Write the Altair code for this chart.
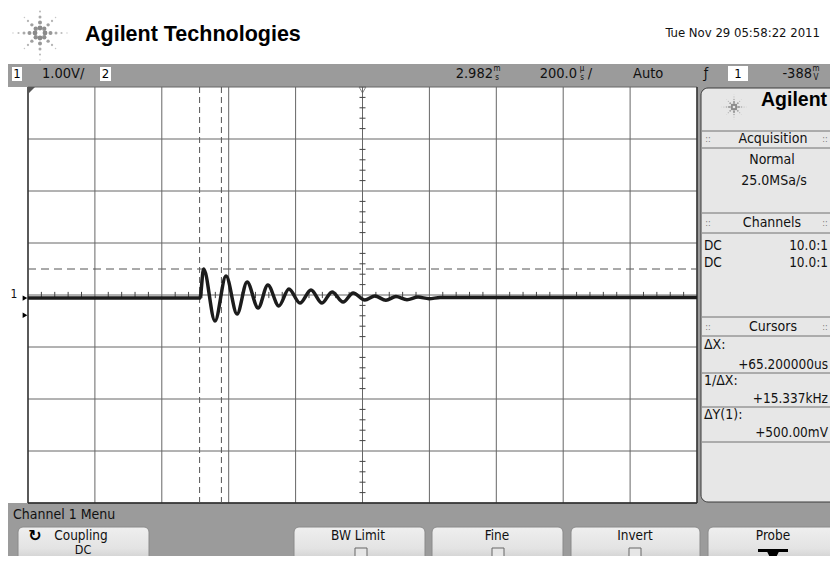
import math
import altair as alt
import pandas as pd

OFF = 8  # page margin: chart pixel = reference pixel - OFF

NARROW = "DejaVu Sans Condensed, Liberation Sans Narrow, sans-serif"
SANS = "Liberation Sans, Arial, Helvetica, sans-serif"
GRAY = "#9b9b9b"

# ---------------- scope data ----------------
TIME_DOMAIN = [-1000, 1000]          # microseconds, 200 us/div
VOLT_DOMAIN = [-4, 4]                # volts, 1.00 V/div
grid_t = [-1000, -800, -600, -400, -200, 0, 200, 400, 600, 800, 1000]
grid_v = [-4, -3, -2, -1, 0, 1, 2, 3, 4]

trace_t = [-1000, -486, -475, -441, -408, -375, -345, -312, -283, -250, -220, -187,
           -154, -121, -91, -58, -28, 7, 37, 70, 100, 133, 166, 199, 232, 1000]
trace_v = [-0.06, -0.06, 0.50, -0.50, 0.365, -0.365, 0.25, -0.25, 0.19, -0.21, 0.115, -0.155,
           0.095, -0.155, 0.06, -0.135, 0.04, -0.095, -0.02, -0.10, -0.03, -0.09, -0.04, -0.07,
           -0.05, -0.05]

cursor_x = [-487.0, -421.8]          # delta X = 65.2 us
cursor_y = [0.5]                      # delta Y(1) = 500 mV (other cursor at 0 V)
trigger_level = -0.388
ground_level = -0.06

# plot area in reference pixels
PX = [28, 697]
PY = [503, 87]

xs = alt.Scale(domain=TIME_DOMAIN, range=[PX[0] - OFF, PX[1] - OFF], nice=False, zero=False)
ys = alt.Scale(domain=VOLT_DOMAIN, range=[PY[0] - OFF, PY[1] - OFF], nice=False, zero=False)


def X(f):
    return alt.X(f, scale=xs, axis=None)


def Y(f):
    return alt.Y(f, scale=ys, axis=None)


def PXe(f):
    return alt.X(f, scale=None, axis=None)


def PYe(f):
    return alt.Y(f, scale=None, axis=None)


layers = []

# ---------------- background blocks ----------------
rects = pd.DataFrame([
    dict(x=0, x2=838, y=64, y2=87, fill=GRAY),
    dict(x=28, x2=697, y=87, y2=503, fill="white"),
    dict(x=697, x2=838, y=87, y2=505, fill=GRAY),
    dict(x=0, x2=838, y=503, y2=564, fill=GRAY),
    dict(x=12, x2=22, y=67, y2=81, fill="white"),
    dict(x=100, x2=111, y=67, y2=81, fill="white"),
    dict(x=728, x2=748, y=66, y2=81, fill="white"),
])
for c in ["x", "x2", "y", "y2"]:
    rects[c] = rects[c] - OFF
layers.append(alt.Chart(rects).mark_rect().encode(
    x=PXe("x:Q"), x2="x2:Q", y=PYe("y:Q"), y2="y2:Q",
    color=alt.Color("fill:N", scale=None, legend=None)))

# right side panel
panel = pd.DataFrame([dict(x=701 - OFF, x2=845 - OFF, y=88 - OFF, y2=502 - OFF)])
layers.append(alt.Chart(panel).mark_rect(
    color="#e7e7e7", stroke="#3a3a3a", strokeWidth=1,
    cornerRadiusTopLeft=7, cornerRadiusBottomLeft=7).encode(
    x=PXe("x:Q"), x2="x2:Q", y=PYe("y:Q"), y2="y2:Q"))

# soft keys
buttons = pd.DataFrame(dict(
    x=[18, 294, 432, 571, 708], x2=[149, 425, 563, 700, 842],
    y=[527] * 5, y2=[575] * 5))
for c in ["x", "x2", "y", "y2"]:
    buttons[c] = buttons[c] - OFF
grad = alt.Gradient(gradient="linear", x1=0, x2=0, y1=0, y2=1, stops=[
    alt.GradientStop(color="#efefef", offset=0),
    alt.GradientStop(color="#e3e3e3", offset=0.45),
    alt.GradientStop(color="#b5b5b5", offset=1)])
layers.append(alt.Chart(buttons).mark_rect(
    color=grad, stroke="#8a8a8a", strokeWidth=1, cornerRadius=5).encode(
    x=PXe("x:Q"), x2="x2:Q", y=PYe("y:Q"), y2="y2:Q"))

checks = pd.DataFrame(dict(x=[355, 492, 629], x2=[367, 504, 641], y=[548] * 3, y2=[560] * 3))
for c in ["x", "x2", "y", "y2"]:
    checks[c] = checks[c] - OFF
layers.append(alt.Chart(checks).mark_rect(
    fill="#e6e6e6", stroke="#666666", strokeWidth=1).encode(
    x=PXe("x:Q"), x2="x2:Q", y=PYe("y:Q"), y2="y2:Q"))

# probe arrow
arrow_bar = pd.DataFrame([dict(x=758 - OFF, x2=788 - OFF, y=549 - OFF, y2=552 - OFF)])
layers.append(alt.Chart(arrow_bar).mark_rect(color="black").encode(
    x=PXe("x:Q"), x2="x2:Q", y=PYe("y:Q"), y2="y2:Q"))
arrow_tri = pd.DataFrame([dict(x=773 - OFF, y=557 - OFF)])
layers.append(alt.Chart(arrow_tri).mark_point(
    shape="M -1 -1 L 1 -1 L 0 1 Z", filled=True, color="black", size=170, opacity=1).encode(
    x=PXe("x:Q"), y=PYe("y:Q")))

# panel separator lines
sep_y = [131, 148, 213, 233, 317, 336, 373, 407, 442]
seps = pd.DataFrame(dict(y=[v - OFF for v in sep_y]))
seps["x"] = 702 - OFF
seps["x2"] = 845 - OFF
layers.append(alt.Chart(seps).mark_rule(color="#707070", strokeWidth=1).encode(
    x=PXe("x:Q"), x2="x2:Q", y=PYe("y:Q")))

# ---------------- scope grid ----------------
vgrid = pd.DataFrame(dict(t=grid_t))
vgrid["v1"] = VOLT_DOMAIN[0]
vgrid["v2"] = VOLT_DOMAIN[1]
layers.append(alt.Chart(vgrid).mark_rule(color="#666666", strokeWidth=1).encode(
    x=X("t:Q"), y=Y("v1:Q"), y2="v2:Q"))
hgrid = pd.DataFrame(dict(v=grid_v))
hgrid["t1"] = TIME_DOMAIN[0]
hgrid["t2"] = TIME_DOMAIN[1]
layers.append(alt.Chart(hgrid).mark_rule(color="#666666", strokeWidth=1).encode(
    y=Y("v:Q"), x=X("t1:Q"), x2="t2:Q"))

# minor ticks on centre axes
minor_v = [round(-4 + 0.2 * i, 2) for i in range(41) if i % 5 != 0]
mv = pd.DataFrame(dict(v=minor_v))
mv["t1"] = -9
mv["t2"] = 9
layers.append(alt.Chart(mv).mark_rule(color="#444444", strokeWidth=1).encode(
    y=Y("v:Q"), x=X("t1:Q"), x2="t2:Q"))
minor_t = [-1000 + 40 * i for i in range(51) if i % 5 != 0]
mt = pd.DataFrame(dict(t=minor_t))
mt["v1"] = -0.06
mt["v2"] = 0.06
layers.append(alt.Chart(mt).mark_rule(color="#444444", strokeWidth=1).encode(
    x=X("t:Q"), y=Y("v1:Q"), y2="v2:Q"))

# frame of the plot area
frame_v = pd.DataFrame(dict(t=[TIME_DOMAIN[0], TIME_DOMAIN[1]]))
frame_v["v1"] = VOLT_DOMAIN[0]
frame_v["v2"] = VOLT_DOMAIN[1]
layers.append(alt.Chart(frame_v).mark_rule(color="#2a2a2a", strokeWidth=1.3).encode(
    x=X("t:Q"), y=Y("v1:Q"), y2="v2:Q"))
frame_h = pd.DataFrame(dict(v=[VOLT_DOMAIN[0]]))
frame_h["t1"] = TIME_DOMAIN[0]
frame_h["t2"] = TIME_DOMAIN[1]
layers.append(alt.Chart(frame_h).mark_rule(color="#2a2a2a", strokeWidth=1.3).encode(
    y=Y("v:Q"), x=X("t1:Q"), x2="t2:Q"))

# cursors
cx = pd.DataFrame(dict(t=cursor_x))
cx["v1"] = VOLT_DOMAIN[0]
cx["v2"] = VOLT_DOMAIN[1]
layers.append(alt.Chart(cx).mark_rule(color="#555555", strokeWidth=1, strokeDash=[6, 4]).encode(
    x=X("t:Q"), y=Y("v1:Q"), y2="v2:Q"))
cy = pd.DataFrame(dict(v=cursor_y))
cy["t1"] = TIME_DOMAIN[0]
cy["t2"] = TIME_DOMAIN[1]
layers.append(alt.Chart(cy).mark_rule(color="#555555", strokeWidth=1, strokeDash=[8, 5]).encode(
    y=Y("v:Q"), x=X("t1:Q"), x2="t2:Q"))

# ---------------- the trace ----------------
trace = pd.DataFrame(dict(t=trace_t, v=trace_v))
layers.append(alt.Chart(trace).mark_line(
    color="#1c1c1c", strokeWidth=3.5, interpolate="monotone").encode(
    x=X("t:Q"), y=Y("v:Q"), order="t:Q"))

# markers: ground reference and trigger level arrows
marks = pd.DataFrame(dict(v=[ground_level, trigger_level]))
layers.append(alt.Chart(marks).mark_point(
    shape="triangle-right", filled=True, color="black", size=30, opacity=1).encode(
    y=Y("v:Q"), x=alt.value(25 - OFF)))

# trigger position marker (top centre) and delay marker (top left)
trig = pd.DataFrame(dict(t=[0]))
layers.append(alt.Chart(trig).mark_point(
    shape="triangle-down", filled=False, color="#555555", size=45, strokeWidth=1).encode(
    x=X("t:Q"), y=alt.value(90 - OFF)))
corner = pd.DataFrame(dict(t=[TIME_DOMAIN[0]]))
layers.append(alt.Chart(corner).mark_point(
    shape="M -1 -1 L 1 -1 L -1 1 Z", filled=True, color="#555555", size=49, opacity=1).encode(
    x=X("t:Q"), y=alt.value(90.5 - OFF), xOffset=alt.value(3.5)))

# ---------------- logos (dot sparkles) ----------------
def sparkle(cx0, cy0, scale):
    rows = []
    for k in range(8):
        ang = math.radians(45 * k)
        if k % 2 == 0:
            radii = [5, 10.5, 16, 21.5, 27]
            diam = [5.5, 4.5, 3.4, 2.4, 1.6]
            cols = ["#8a8a8a", "#979797", "#aaaaaa", "#bcbcbc", "#cacaca"]
        else:
            radii = [6, 11.5, 17, 22]
            diam = [5, 3.8, 2.6, 1.7]
            cols = ["#8e8e8e", "#a0a0a0", "#b5b5b5", "#c6c6c6"]
        for r, d, c in zip(radii, diam, cols):
            rows.append(dict(x=cx0 + r * scale * math.cos(ang) - OFF,
                             y=cy0 + r * scale * math.sin(ang) - OFF,
                             s=math.pi * (d * max(scale, 0.55)) ** 2 / 4, c=c))
    return rows


logo = pd.DataFrame(sparkle(40, 33, 1.0) + sparkle(734, 107, 0.47))
layers.append(alt.Chart(logo).mark_circle(opacity=1).encode(
    x=PXe("x:Q"), y=PYe("y:Q"),
    size=alt.Size("s:Q", scale=None, legend=None),
    color=alt.Color("c:N", scale=None, legend=None)))

# ---------------- texts ----------------
def T(text, x, y, size=14, color="#111111"):
    return dict(text=text, x=x - OFF, y=y - OFF, size=size, color=color)


def text_layer(rows, align, font, bold=False):
    df = pd.DataFrame(rows)
    return alt.Chart(df).mark_text(
        align=align, baseline="middle", font=font,
        fontWeight="bold" if bold else "normal").encode(
        x=PXe("x:Q"), y=PYe("y:Q"), text="text:N",
        size=alt.Size("size:Q", scale=None, legend=None),
        color=alt.Color("color:N", scale=None, legend=None))


RIGHT_EDGE = 828  # last visible reference column inside the page margin

left_narrow = [
    T("1.00V/", 42, 74, 14.5),
    T("Auto", 633, 74, 14.5),
    T("Channel 1 Menu", 13, 515),
    T("DC", 704, 246, 13.5), T("DC", 704, 263, 13.5),
    T("\u0394X:", 704, 345), T("1/\u0394X:", 704, 381), T("\u0394Y(1):", 704, 415),
]
right_narrow = [
    T("2.982", 493, 74, 14.5), T("200.0", 577, 74, 14.5), T("-388", 812, 74, 14.5),
    T("Tue Nov 29 05:58:22 2011", 820, 33, 13),
    T("10.0:1", RIGHT_EDGE, 246, 13.5), T("10.0:1", RIGHT_EDGE, 263, 13.5),
    T("+65.200000us", RIGHT_EDGE, 365, 13.5), T("+15.337kHz", RIGHT_EDGE, 399, 13.5),
    T("+500.00mV", RIGHT_EDGE, 433, 13.5),
]
center_narrow = [
    T("1", 17, 74, 13, "black"), T("2", 105.5, 74, 13, "black"), T("1", 738, 74, 13, "black"),
    T("/", 590, 74, 14.5),
    T("m", 497, 69, 8), T("s", 497, 78, 8),
    T("\u00b5", 582, 69, 8), T("s", 582, 78, 8),
    T("m", 816, 69, 8), T("V", 816, 78, 8),
    T("Acquisition", 773, 139), T("Normal", 772, 160), T("25.0MSa/s", 774, 181),
    T("Channels", 772, 223), T("Cursors", 773, 327),
    T("Coupling", 81, 536, 13.5), T("DC", 83, 550, 12.5),
    T("BW Limit", 358, 536, 13.5), T("Fine", 497, 536, 13.5), T("Invert", 635, 536, 13.5),
    T("Probe", 773, 536, 13.5),
    T("1", 14, 294, 12),
    T("\u0192", 706, 74, 14),
    T("::", 708, 139, 9, "#777777"), T("::", 825, 139, 9, "#777777"),
    T("::", 708, 223, 9, "#777777"), T("::", 825, 223, 9, "#777777"),
    T("::", 708, 327, 9, "#777777"), T("::", 825, 327, 9, "#777777"),
]
bold_left = [
    T("Agilent Technologies", 85, 35, 21.5, "black"),
    T("Agilent", 761, 100, 19.5, "black"),
]
icon = [T("\u21bb", 35, 536, 16, "black")]

layers.append(text_layer(left_narrow, "left", NARROW))
layers.append(text_layer(right_narrow, "right", NARROW))
layers.append(text_layer(center_narrow, "center", NARROW))
layers.append(text_layer(bold_left, "left", SANS, bold=True))
layers.append(text_layer(icon, "center", "DejaVu Sans", bold=True))

chart = alt.layer(*layers).properties(
    width=838 - 2 * OFF, height=564 - 2 * OFF, padding=0, autosize="none",
    background="white"
).configure_view(stroke=None)

chart.save("out.html", embed_options={"renderer": "svg", "actions": False})
